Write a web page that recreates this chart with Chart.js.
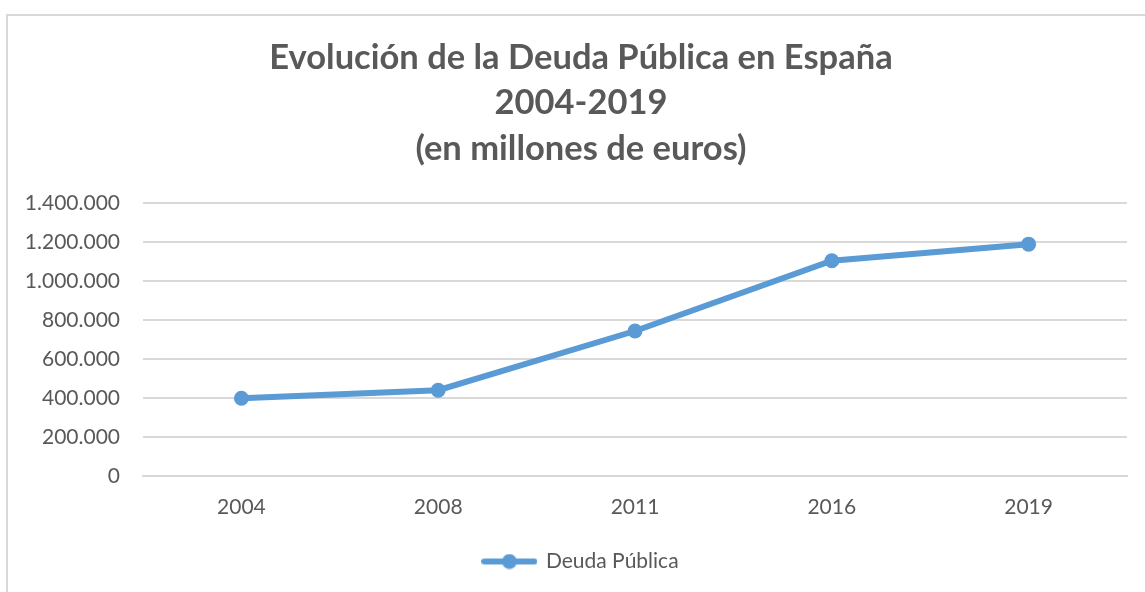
<!DOCTYPE html>
<html>
<head>
<meta charset="utf-8">
<script src="https://cdn.jsdelivr.net/npm/chart.js@4/dist/chart.umd.min.js"></script>
<style>
  html, body { margin: 0; padding: 0; background: #fff; overflow: hidden; }
  .frame {
    position: absolute; left: 6px; top: 14px;
    width: 1160px; height: 600px;
    border: 2px solid #d9d9d9; box-sizing: border-box;
  }
  #chart { position: absolute; left: 8px; top: 16px; }
</style>
</head>
<body>
<div class="frame"></div>
<canvas id="chart" width="1137" height="576"></canvas>
<script>
// datos (millones de euros)
const years = ['2004', '2008', '2011', '2016', '2019'];
const deuda = [399000, 440000, 743500, 1104000, 1189000];
const titleLines = ['Evolución de la Deuda Pública en España', '2004-2019', '(en millones de euros)'];
const seriesName = 'Deuda Pública';

const gray = '#595959';
const blue = '#5b9bd5';
const fontFam = 'Lato, "Open Sans", sans-serif';

const fmt = (v) => v.toLocaleString('de-DE');

// simbolo de leyenda: linea con punto
function legendSymbol() {
    const c = document.createElement('canvas');
    c.width = 56;
    c.height = 16;
    const g = c.getContext('2d');
    g.strokeStyle = blue;
    g.lineWidth = 6;
    g.lineCap = 'round';
    g.beginPath();
    g.moveTo(3, 8);
    g.lineTo(53, 8);
    g.stroke();
    g.fillStyle = blue;
    g.beginPath();
    g.arc(28, 8, 7.5, 0, Math.PI * 2);
    g.fill();
    return c;
}

new Chart(document.getElementById('chart'), {
    type: 'line',
    data: {
        labels: years,
        datasets: [{
            label: seriesName,
            data: deuda,
            borderColor: blue,
            backgroundColor: blue,
            borderWidth: 6,
            pointStyle: 'circle',
            pointRadius: 7.5,
            pointHoverRadius: 7.5,
            pointBorderWidth: 0,
            tension: 0,
            fill: false,
        }],
    },
    options: {
        responsive: false,
        animation: false,
        layout: {
            padding: { left: 27, right: 18, top: 0, bottom: 10 },
        },
        plugins: {
            title: {
                display: true,
                text: titleLines,
                color: gray,
                font: { family: fontFam, size: 34.5, weight: 'bold', lineHeight: 45.5 / 34.5 },
                padding: { top: 19, bottom: 31.5 },
            },
            legend: {
                position: 'bottom',
                labels: {
                    color: gray,
                    font: { family: fontFam, size: 21 },
                    usePointStyle: true,
                    pointStyleWidth: 52,
                    padding: 10,
                    generateLabels: (chart) => [{
                        text: seriesName,
                        fontColor: gray,
                        pointStyle: legendSymbol(),
                        datasetIndex: 0,
                        lineWidth: 0,
                    }],
                },
            },
            tooltip: { enabled: false },
        },
        scales: {
            x: {
                offset: true,
                grid: { display: false, drawTicks: false },
                border: { display: true, color: '#d9d9d9', width: 2 },
                ticks: { color: gray, font: { family: fontFam, size: 21 }, padding: 19 },
                afterFit: (scale) => { scale.height = 65; },
            },
            y: {
                min: 0,
                max: 1400000,
                grid: { color: '#d9d9d9', lineWidth: 2, drawTicks: false },
                border: { display: false },
                ticks: {
                    stepSize: 200000,
                    color: gray,
                    font: { family: fontFam, size: 21 },
                    padding: 23,
                    callback: (v) => fmt(v),
                },
                afterFit: (scale) => {
                    scale.width = 108;
                    // no recortar las etiquetas que salen del eje
                    scale._computeLabelArea = () => null;
                },
            },
        },
    },
});
</script>
</body>
</html>
